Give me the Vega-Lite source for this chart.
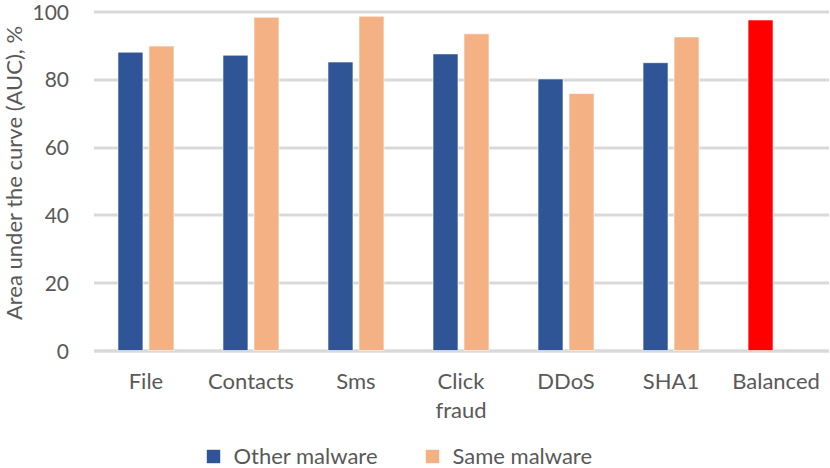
{
  "$schema": "https://vega.github.io/schema/vega-lite/v6.json",
  "width": 735,
  "height": 339,
  "autosize": {"type": "none"},
  "padding": {"left": 93.5, "top": 11.5, "right": 1.5, "bottom": 117.5},
  "background": "white",
  "config": {
    "font": "Lato",
    "view": {"stroke": null},
    "axis": {"labelFont": "Lato", "titleFont": "Lato", "labelColor": "#595959", "titleColor": "#595959"},
    "legend": {"labelFont": "Lato"}
  },
  "data": {
    "values": [
      {"category": "File", "series": "Other malware", "auc": 88.0},
      {"category": "File", "series": "Same malware", "auc": 89.8},
      {"category": "Contacts", "series": "Other malware", "auc": 87.1},
      {"category": "Contacts", "series": "Same malware", "auc": 98.3},
      {"category": "Sms", "series": "Other malware", "auc": 85.1},
      {"category": "Sms", "series": "Same malware", "auc": 98.6},
      {"category": "Click fraud", "series": "Other malware", "auc": 87.5},
      {"category": "Click fraud", "series": "Same malware", "auc": 93.4},
      {"category": "DDoS", "series": "Other malware", "auc": 80.1},
      {"category": "DDoS", "series": "Same malware", "auc": 75.8},
      {"category": "SHA1", "series": "Other malware", "auc": 84.9},
      {"category": "SHA1", "series": "Same malware", "auc": 92.5},
      {"category": "Balanced", "series": "Other malware", "auc": 97.5}
    ]
  },
  "mark": {"type": "bar", "stroke": "white", "strokeWidth": 1, "strokeOpacity": 0.6},
  "encoding": {
    "x": {
      "field": "category",
      "type": "nominal",
      "sort": null,
      "scale": {"paddingInner": 0.467, "paddingOuter": 0.233},
      "axis": {
        "title": null,
        "labelAngle": 0,
        "labelFontSize": 22,
        "labelPadding": 21,
        "labelLineHeight": 29,
        "labelExpr": "split(datum.label, ' ')",
        "ticks": false,
        "domain": true,
        "domainColor": "#d9d9d9",
        "domainWidth": 3,
        "labelBaseline": "top"
      }
    },
    "xOffset": {
      "field": "series",
      "type": "nominal",
      "scale": {"paddingInner": 0.194, "paddingOuter": 0}
    },
    "y": {
      "field": "auc",
      "type": "quantitative",
      "scale": {"domain": [0, 100]},
      "axis": {
        "title": "Area under the curve (AUC), %",
        "titleFontSize": 22,
        "titleFontWeight": "normal",
        "titlePadding": 5,
        "titleY": 161,
        "labelFontSize": 21,
        "labelOffset": 1.5,
        "labelPadding": 25,
        "values": [0, 20, 40, 60, 80, 100],
        "ticks": false,
        "domain": false,
        "grid": true,
        "gridColor": "#d9d9d9",
        "gridWidth": 3
      }
    },
    "color": {
      "condition": {"test": "datum.category === 'Balanced'", "value": "#ff0000"},
      "field": "series",
      "type": "nominal",
      "scale": {"domain": ["Other malware", "Same malware"], "range": ["#2f5597", "#f4b183"]},
      "legend": {
        "title": null,
        "orient": "none",
        "legendX": 109,
        "legendY": 434,
        "direction": "horizontal",
        "symbolType": "square",
        "symbolSize": 180,
        "symbolStrokeWidth": 0,
        "labelFontSize": 22,
        "labelOffset": 9,
        "labelColor": "#595959",
        "columnPadding": 43
      }
    }
  }
}
